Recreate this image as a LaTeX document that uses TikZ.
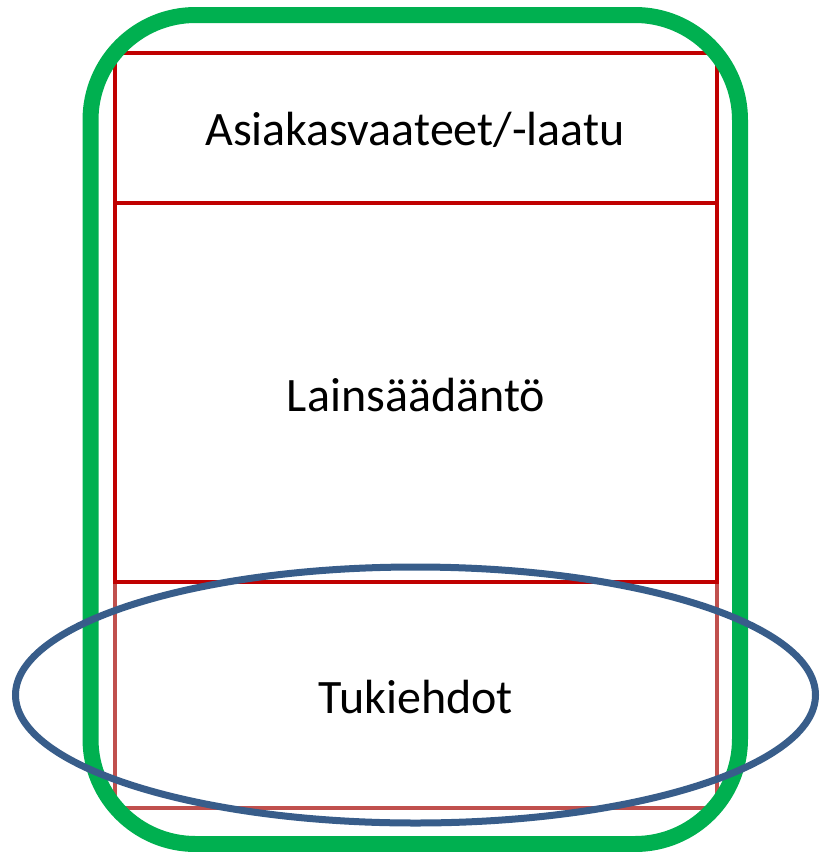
\documentclass[tikz,border=0pt]{standalone}
\usepackage{fontspec}
\setmainfont{Carlito}
\definecolor{darkred}{RGB}{192,0,0}
\definecolor{lightred}{RGB}{192,80,77}
\definecolor{boxgreen}{RGB}{0,176,80}
\definecolor{ellblue}{RGB}{56,93,138}
\tikzset{
  redbox/.style={draw=darkred, line width=4pt},
  lightbox/.style={draw=lightred, line width=4pt},
  label/.style={font=\fontsize{48}{58}\selectfont, text=black},
}
\begin{document}
\begin{tikzpicture}[x=1pt,y=-1pt]
\useasboundingbox (0,0) rectangle (825,852);
% lower (lighter) box
\draw[lightbox] (115,582) rectangle (717,808);
% upper boxes
\draw[redbox] (115,53) rectangle (717,203);
\draw[redbox] (115,203) rectangle (717,582);
% green rounded frame
\draw[draw=boxgreen, line width=16pt, rounded corners=105pt] (90.5,15) rectangle (740,844);
% ellipse
\draw[draw=ellblue, line width=7pt] (415.5,695) ellipse [x radius=400, y radius=128];
% labels
\node[label] (asiakas) at (415,130) {Asiakasvaateet/-laatu};
\node[label] (lains) at (416,395) {Lainsäädäntö};
\node[label] (tuki) at (416,697) {Tukiehdot};
\end{tikzpicture}
\end{document}
